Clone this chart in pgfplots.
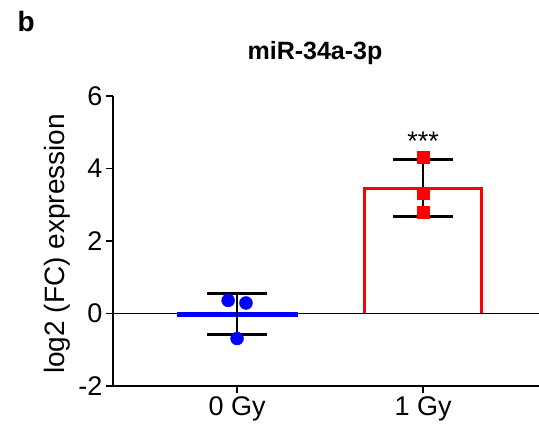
\documentclass[border=0pt]{standalone}
\usepackage{fontspec}
\setmainfont{Liberation Sans}
\usepackage{pgfplots}
\pgfplotsset{compat=1.18}
\begin{document}
\begin{tikzpicture}
\useasboundingbox (0,0) rectangle (539pt,436pt);
\node[anchor=base west, font=\fontsize{28}{30}\selectfont\bfseries] at (14pt,404pt) {b};
\node[anchor=base, font=\fontsize{25}{28}\selectfont\bfseries] at (315pt,376pt) {miR-34a-3p};
\begin{axis}[
  at={(113pt,50pt)}, anchor=south west,
  x=186pt, y=36.25pt,
  xmin=-0.667, xmax=1.624, ymin=-2, ymax=6,
  axis x line*=bottom, axis y line*=left,
  axis line style={line width=1.8pt, -},
  x axis line style={shorten <=-7pt},
  xtick={0,1}, xticklabels={0 Gy, 1 Gy},
  ytick={-2,0,2,4,6},
  tick align=outside, major tick length=7pt,
  tick style={line width=1.5pt, black},
  /pgf/number format/assume math mode=true,
  tick label style={font=\fontsize{27}{30}\selectfont},
  ylabel={log2 (FC) expression},
  every axis y label/.style={at={(axis description cs:-0.131,0.49)}, rotate=90, anchor=center, font=\fontsize{28}{30}\selectfont},
  clip=false,
]
% red bar (1 Gy), open outline without bottom edge
\addplot[red, line width=3pt, mark=none] coordinates {(0.6855,0) (0.6855,3.45) (1.3145,3.45) (1.3145,0)};
% zero line
\addplot[black, line width=1.5pt] coordinates {(-0.667,0) (1.624,0)};
% blue bar (0 Gy)
\addplot[ybar, bar width=118pt, bar shift=0pt, draw=blue, fill=blue, line width=3pt] coordinates {(0,-0.05)};
% error bars
\addplot[draw=none, mark=none, forget plot,
  error bars/.cd, y dir=both, y explicit,
  error bar style={line width=2.5pt, black},
  error mark options={line width=2.5pt, black, mark size=30pt, rotate=90}]
  coordinates {(0,-0.015) +- (0,0.565) (1,3.465) +- (0,0.785)};
% points
\addplot[only marks, mark=*, mark size=6.5pt, blue, mark options={draw=blue, fill=blue}] coordinates {(-0.048,0.36) (0.048,0.29) (0,-0.69)};
\addplot[only marks, mark=square*, mark size=6pt, red, mark options={draw=red, fill=red}] coordinates {(1,4.32) (1,3.31) (1,2.79)};
\node[anchor=base, font=\fontsize{27}{30}\selectfont] at (axis cs:1,4.5) {***};
\end{axis}
\end{tikzpicture}
\end{document}
